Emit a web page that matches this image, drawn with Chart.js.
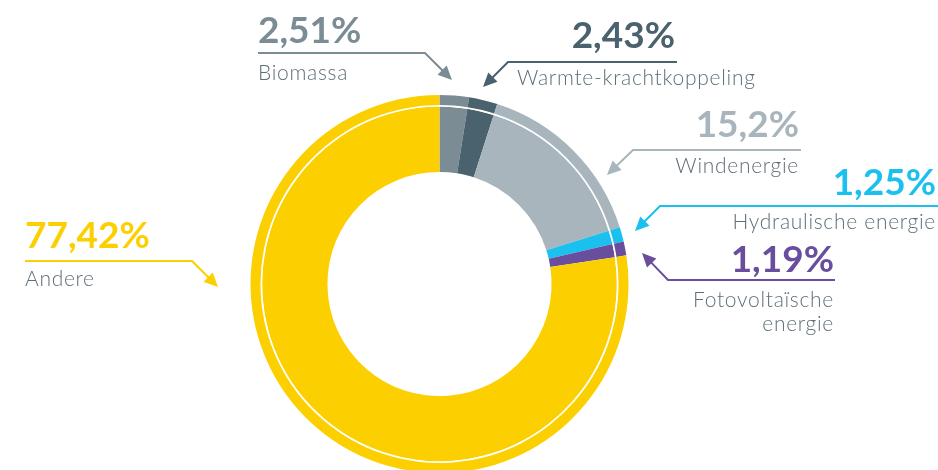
<!DOCTYPE html>
<html>
<head>
<meta charset="utf-8">
<script src="https://cdn.jsdelivr.net/npm/chart.js@4.4.0/dist/chart.umd.min.js"></script>
<style>
    html, body { margin: 0; padding: 0; background: #fff; overflow: hidden; width: 938px; height: 470px; }
    .energyMix { position: absolute; left: 0; top: 0; width: 938px; height: 478px; }
</style>
</head>
<body>
<div class="energyMix"><canvas id="energyMixChart"></canvas></div>
<script>
const categories = ['Biomassa', 'Warmte-krachtkoppeling', 'Windenergie', 'Hydraulische energie', 'Fotovoltaïsche energie', 'Andere'];
const shares = [2.51, 2.43, 15.2, 1.25, 1.19, 77.42];
const shareLabels = ['2,51%', '2,43%', '15,2%', '1,25%', '1,19%', '77,42%'];
const labelLines = [['Biomassa'], ['Warmte-krachtkoppeling'], ['Windenergie'], ['Hydraulische energie'], ['Fotovoltaïsche', 'energie'], ['Andere']];
const colours = ['#7b8c94', '#4a616e', '#a9b5bc', '#1bc1ee', '#6a4e9e', '#fcd000'];

// where each callout sits (text anchor, baselines, leader line ending in an arrow)
const callouts = [
    {align: 'left', x: 258, pctY: 43, labelY: [80], path: [[258, 53], [425, 53], [452, 80]]},
    {align: 'right', x: 675, labelAlign: 'left', labelX: 517, pctY: 48, labelY: [85], path: [[677, 62], [508, 62], [483, 87]]},
    {align: 'right', x: 799, pctY: 137, labelY: [173], path: [[801, 150], [633, 150], [607, 175]]},
    {align: 'right', x: 936, pctY: 195, labelY: [229], path: [[938, 206], [660, 206], [635, 231]]},
    {align: 'right', x: 834, pctY: 272, labelY: [307, 331], path: [[835, 280], [668, 280], [642, 253]]},
    {align: 'left', x: 25, pctY: 248, labelY: [286], path: [[25, 261], [192, 261], [218, 287]]}
];

const calloutPlugin = {
    id: 'callouts',
    afterDraw(chart) {
        const ctx = chart.ctx;
        ctx.save();
        callouts.forEach((c, i) => {
            const col = colours[i];
            // leader line
            const pts = c.path;
            const tip = pts[pts.length - 1];
            const prev = pts[pts.length - 2];
            const ang = Math.atan2(tip[1] - prev[1], tip[0] - prev[0]);
            const headLen = 14, headHalf = 6.5;
            ctx.strokeStyle = col;
            ctx.lineWidth = 2;
            ctx.beginPath();
            ctx.moveTo(pts[0][0], pts[0][1]);
            for (let k = 1; k < pts.length - 1; k++) {
                ctx.lineTo(pts[k][0], pts[k][1]);
            }
            ctx.lineTo(tip[0] - Math.cos(ang) * (headLen - 2), tip[1] - Math.sin(ang) * (headLen - 2));
            ctx.stroke();
            ctx.fillStyle = col;
            ctx.beginPath();
            ctx.moveTo(tip[0], tip[1]);
            const bx = tip[0] - Math.cos(ang) * headLen, by = tip[1] - Math.sin(ang) * headLen;
            ctx.lineTo(bx + Math.sin(ang) * headHalf, by - Math.cos(ang) * headHalf);
            ctx.lineTo(bx - Math.sin(ang) * headHalf, by + Math.cos(ang) * headHalf);
            ctx.closePath();
            ctx.fill();

            // percentage
            ctx.textBaseline = 'alphabetic';
            ctx.textAlign = c.align;
            ctx.letterSpacing = '0px';
            ctx.font = 'bold 37px Lato';
            ctx.fillText(shareLabels[i], c.x, c.pctY);

            // category name
            ctx.fillStyle = '#5f6f78';
            ctx.font = '300 21px Lato';
            ctx.letterSpacing = '0.7px';
            ctx.textAlign = c.labelAlign || c.align;
            labelLines[i].forEach((line, j) => {
                ctx.fillText(line, c.labelX || c.x, c.labelY[j]);
            });
        });
        ctx.restore();
    }
};

const ctx = document.getElementById('energyMixChart');
new Chart(ctx, {
    type: 'doughnut',
    data: {
        labels: categories,
        datasets: [
            {data: shares, backgroundColor: colours, borderWidth: 0, weight: 10},
            {data: shares, backgroundColor: '#ffffff', borderWidth: 0, weight: 1.6},
            {data: shares, backgroundColor: colours, borderWidth: 0, weight: 65.4}
        ]
    },
    options: {
        responsive: true,
        maintainAspectRatio: false,
        animation: false,
        cutout: '59.3%',
        layout: {
            padding: {left: 250.5, right: 309.5, top: 95, bottom: 5}
        },
        plugins: {
            legend: {display: false},
            tooltip: {enabled: false}
        }
    },
    plugins: [calloutPlugin]
});
</script>
</body>
</html>
